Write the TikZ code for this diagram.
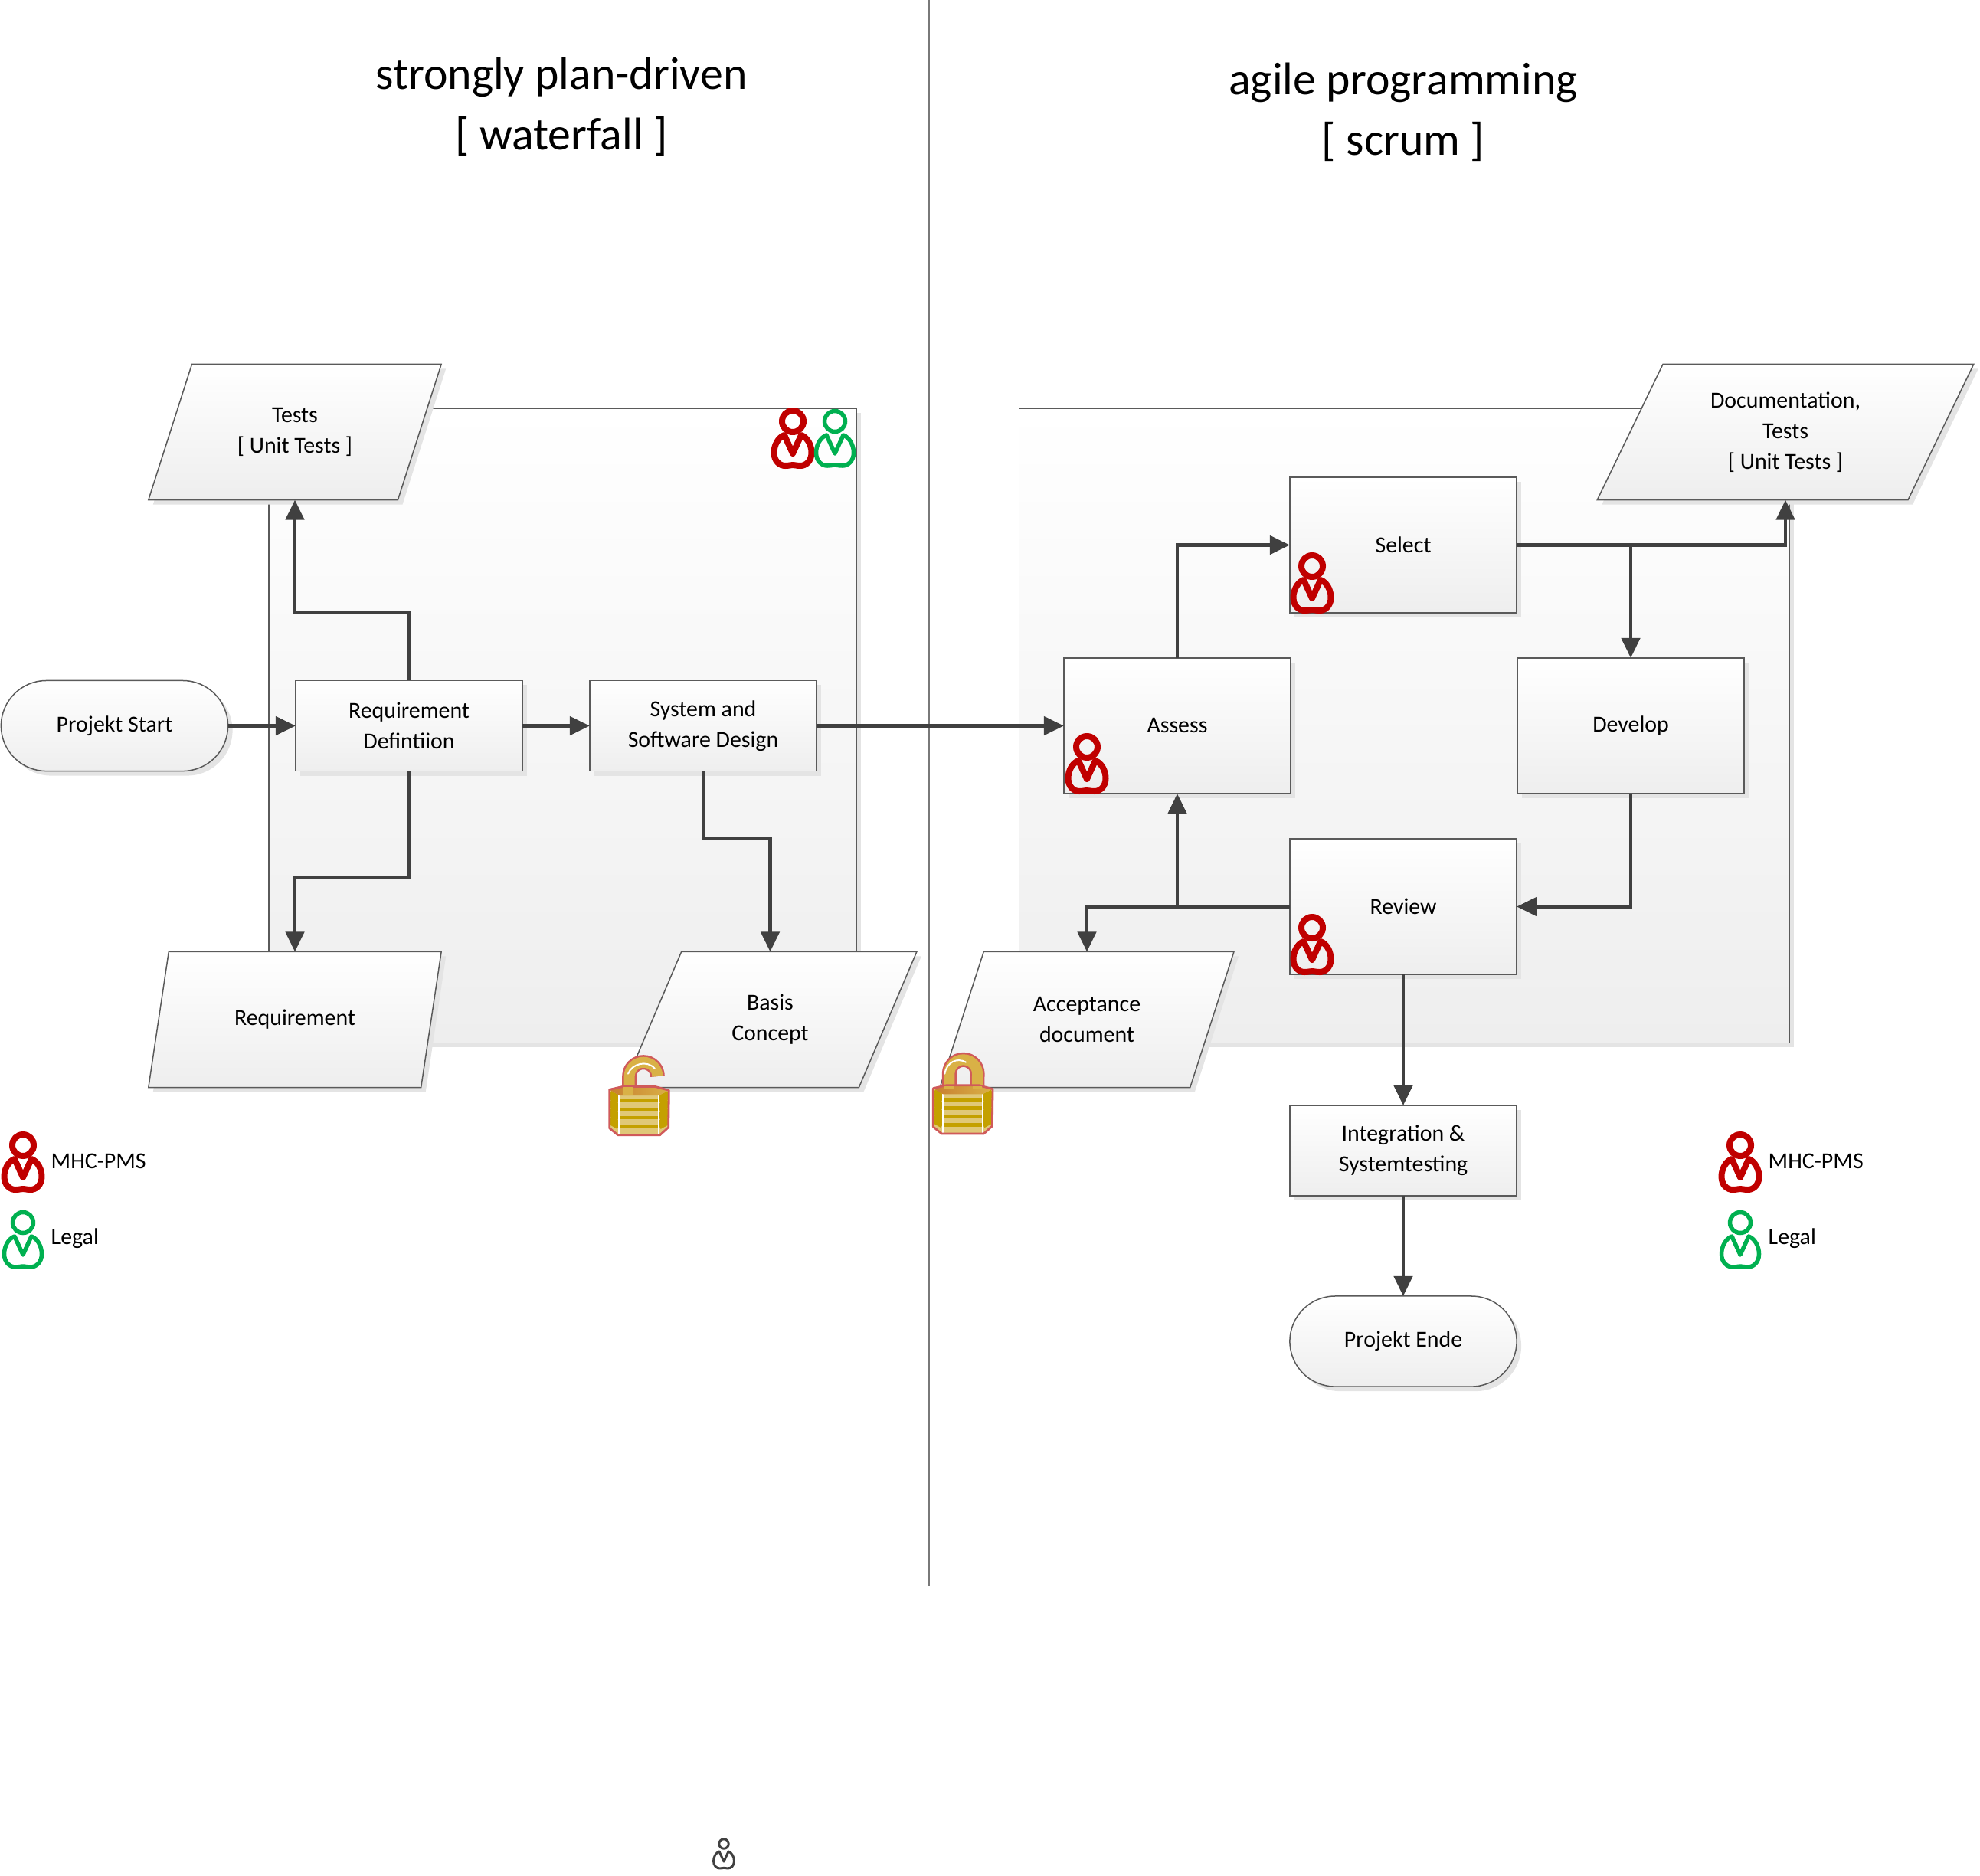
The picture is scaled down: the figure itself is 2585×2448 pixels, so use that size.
\documentclass[tikz,border=0pt]{standalone}
\usepackage{fontspec}
\setmainfont{Carlito}
\usetikzlibrary{arrows.meta,shapes.geometric,shadows,calc}
\definecolor{linecol}{HTML}{404040}
\definecolor{edgecol}{HTML}{5A5A5A}
\definecolor{shadowcol}{HTML}{E4E4E4}
\definecolor{lowcol}{HTML}{EEEEEE}
\definecolor{redcol}{HTML}{C00000}
\definecolor{greencol}{HTML}{00B050}
\definecolor{lockline}{HTML}{D05A5A}
\definecolor{lockgold}{HTML}{D9B146}
\definecolor{lockpale}{HTML}{E0C878}
\definecolor{lockbar}{HTML}{C4A000}
\definecolor{lockdark}{HTML}{C87E30}
\tikzset{
  x=0.01cm,y=-0.01cm,
  softshadow/.style={general shadow={fill=shadowcol,draw=none,shadow xshift=0.06cm,shadow yshift=-0.06cm}},
  flowbase/.style={draw=edgecol,line width=0.015cm,softshadow,top color=white,bottom color=lowcol,
    inner sep=0pt,outer sep=0pt,align=center,font=\fontsize{8.5}{11.4}\selectfont,text=black},
  taskbox/.style={flowbase,rectangle,minimum width=2.96cm,minimum height=1.77cm},
  flatbox/.style={flowbase,rectangle,minimum width=2.96cm,minimum height=1.18cm},
  termbox/.style={flowbase,rectangle,rounded corners=0.59cm,minimum width=2.96cm,minimum height=1.18cm},
  databox/.style={flowbase,trapezium,trapezium left angle=63.43,trapezium right angle=116.57,
    trapezium stretches=true,minimum width=3.84cm,minimum height=1.77cm},
  widedata/.style={databox,minimum width=4.95cm},
  panelbox/.style={flowbase},
  conn/.style={draw=linecol,line width=0.045cm,-{Triangle[length=0.26cm,width=0.24cm]}},
  plainconn/.style={draw=linecol,line width=0.045cm},
  titletext/.style={align=center,font=\fontsize{17}{22.5}\selectfont,inner sep=0pt},
  legendtext/.style={anchor=west,inner sep=0pt,font=\fontsize{8.5}{11.4}\selectfont},
}
% \personicon{x}{y}{colour}{scale}{line width in px}{head radius}
\newcommand{\personicon}[6]{%
  \begin{scope}[shift={(#1,#2)},x=#4*0.01cm,y=-#4*0.01cm,draw=#3,line width=#5*0.01cm,line join=round]
    \draw (0,0) circle[radius=#6];
    \draw (0,42) -- (-11,18) .. controls (-19,21) and (-24.5,31) .. (-24.5,41)
      .. controls (-24.5,52) and (-17,58) .. (-10,58) .. controls (-5,58) and (-3,57) .. (0,57)
      .. controls (3,57) and (5,58) .. (10,58) .. controls (17,58) and (24.5,52) .. (24.5,41)
      .. controls (24.5,31) and (19,21) .. (11,18) -- cycle;
  \end{scope}}
% lock body, in units of 1/3 px
\newcommand{\lockbody}{%
  \fill[lockpale] (77,217) -- (310,220) -- (308,365) -- (275,395) -- (110,395) -- (77,368) -- cycle;
  \begin{scope}
    \clip (77,217) -- (115,240) -- (115,395) -- (110,395) -- (77,368) -- cycle;
    \foreach \s in {0,33,66,99}{\draw[lockbar,line width=0.11cm] (77,236+\s) -- (115,258+\s);}
  \end{scope}
  \begin{scope}
    \clip (310,220) -- (270,240) -- (270,395) -- (275,395) -- (308,365) -- cycle;
    \foreach \s in {0,33,66,99}{\draw[lockbar,line width=0.11cm] (310,236+\s) -- (270,258+\s);}
  \end{scope}
  \foreach \s in {0,33,66,99}{\fill[lockbar] (118,255+\s) rectangle (267,268+\s);}
  \draw[white,line width=0.02cm] (115,240) -- (115,392);
  \draw[white,line width=0.02cm] (270,240) -- (270,392);
  \shade[left color=lockdark,right color=lockgold] (77,217) -- (130,205) -- (255,205) -- (310,220) -- (270,240) -- (115,240) -- cycle;
  \draw[lockline,line width=0.028cm,line join=round] (77,217) -- (130,205) -- (255,205) -- (310,220) -- (308,365) -- (275,395) -- (110,395) -- (77,368) -- cycle;
}
\begin{document}
\begin{tikzpicture}
\useasboundingbox (0,0) rectangle (2585,2448);
% divider
\draw[draw=linecol!70,line width=0.02cm] (1213,0) -- (1213,2070);
% titles
\node[titletext] (titleL) at (733,139) {strongly plan-driven\\{}[ waterfall ]};
\node[titletext] (titleR) at (1832,146) {agile programming\\{}[ scrum ]};
% panels
\node[panelbox,minimum width=7.67cm,minimum height=8.28cm] (panelL) at (734.5,947) {};
\node[panelbox,minimum width=10.05cm,minimum height=8.28cm] (panelR) at (1833.5,947) {};
% data shapes
\node[databox] (tests) at (385,564) {Tests\\{}[ Unit Tests ]};
\node[databox] (reqdoc) at (385,1331) {Requirement};
\node[databox] (basis) at (1005.5,1331) {Basis\\Concept};
\node[databox] (accept) at (1419,1331) {Acceptance\\document};
\node[widedata] (docs) at (2331,564) {Documentation,\\Tests\\{}[ Unit Tests ]};
% process shapes
\node[termbox] (start) at (149.5,947.5) {Projekt Start};
\node[flatbox] (req) at (534,947.5) {Requirement\\Defintiion};
\node[flatbox] (sys) at (918,947.5) {System and\\Software Design};
\node[taskbox] (select) at (1832,711.5) {Select};
\node[taskbox] (assess) at (1537,947.5) {Assess};
\node[taskbox] (develop) at (2129,947.5) {Develop};
\node[taskbox] (review) at (1832,1183.5) {Review};
\node[flatbox] (integ) at (1832,1502) {Integration \&\\Systemtesting};
\node[termbox] (ende) at (1832,1751) {Projekt Ende};
% connector bends
\coordinate (upL) at (534,800);
\coordinate (downL) at (534,1145);
\coordinate (sysbend) at (918,1095);
\coordinate (branch) at (1537,1183.5);
% connectors
\draw[conn] (start) -- (req);
\draw[conn] (req) -- (sys);
\draw[conn] (sys) -- (assess);
\draw[conn] (req.north) -- (upL) -| (tests.south);
\draw[conn] (req.south) -- (downL) -| (reqdoc.north);
\draw[conn] (sys.south) -- (sysbend) -| (basis.north);
\draw[conn] (assess.north) |- (select.west);
\draw[conn] (select.east) -| (docs.south);
\draw[conn] (select.east) -| (develop.north);
\draw[conn] (develop.south) |- (review.east);
\draw[conn] (review.west) -| (accept.north);
\draw[conn] (branch) -- (assess.south);
\draw[conn] (review.south) -- (integ.north);
\draw[conn] (integ.south) -- (ende.north);
% people
\personicon{1035}{550}{redcol}{1}{8}{14}
\personicon{1090}{550}{greencol}{1}{5.5}{13.5}
\personicon{1713}{739}{redcol}{1}{8}{14}
\personicon{1419}{975}{redcol}{1}{8}{14}
\personicon{1713}{1211}{redcol}{1}{8}{14}
\personicon{30}{1495}{redcol}{1}{8}{14}
\personicon{30}{1596}{greencol}{1}{5.5}{13.5}
\personicon{2272}{1495}{redcol}{1}{8}{14}
\personicon{2272}{1596}{greencol}{1}{5.5}{13.5}
\personicon{945}{2407}{linecol}{0.55}{3}{11.3}
% legends
\node[legendtext] (mhcL) at (66,1516) {MHC-PMS};
\node[legendtext] (legalL) at (66,1617) {Legal};
\node[legendtext] (mhcR) at (2308,1516) {MHC-PMS};
\node[legendtext] (legalR) at (2308,1617) {Legal};
% open lock
\begin{scope}[shift={(770,1350)},x=0.01cm/3,y=-0.01cm/3]
  \draw[lockline,line width=0.19cm] (155,240) -- (155,165) arc[start angle=180,end angle=0,x radius=55,y radius=-55];
  \draw[lockgold,line width=0.14cm] (155,240) -- (155,165) arc[start angle=180,end angle=0,x radius=55,y radius=-55];
  \draw[white,line width=0.02cm,line cap=round] (150,155) .. controls (165,115) and (225,100) .. (255,135);
  \lockbody
  \fill[lockgold] (132,208) rectangle (170,238);
\end{scope}
% closed lock
\begin{scope}[shift={(1192.7,1348.3)},x=0.01cm/3,y=-0.01cm/3]
  \draw[lockline,line width=0.19cm] (140,225) -- (140,160) arc[start angle=180,end angle=0,x radius=55,y radius=-55] -- (249,225);
  \draw[lockgold,line width=0.14cm] (140,225) -- (140,160) arc[start angle=180,end angle=0,x radius=55,y radius=-55] -- (249,225);
  \draw[white,line width=0.02cm,line cap=round] (122,160) .. controls (130,115) and (170,95) .. (205,115);
  \lockbody
  \fill[lockgold] (122,208) rectangle (160,222);
  \fill[lockgold] (231,208) rectangle (268,222);
\end{scope}
\end{tikzpicture}
\end{document}
